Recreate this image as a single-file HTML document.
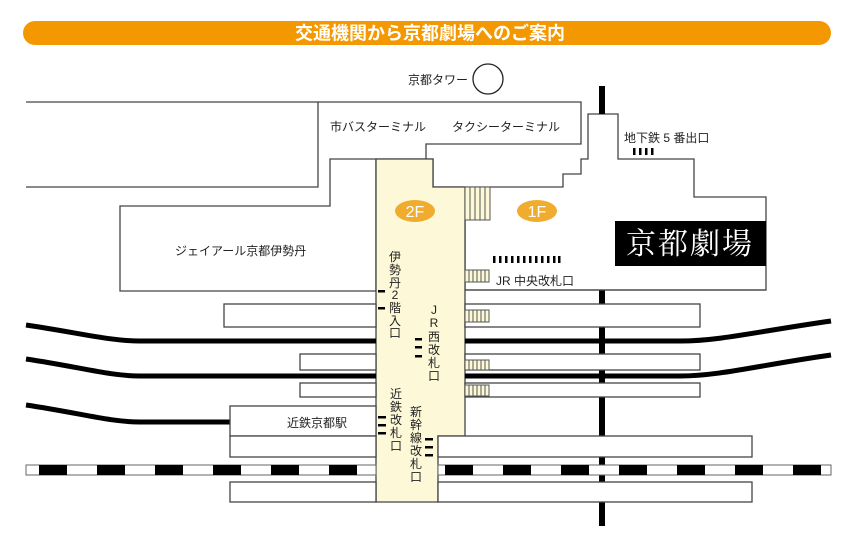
<!DOCTYPE html>
<html><head><meta charset="utf-8"><style>
html,body{margin:0;padding:0;background:#fff;width:849px;height:537px;overflow:hidden}
svg{display:block}
text{font-family:"Liberation Sans","Noto Sans CJK JP",sans-serif;font-size:12px;fill:#222}
</style></head><body>
<svg width="849" height="537" viewBox="0 0 849 537" xmlns="http://www.w3.org/2000/svg">
<rect x="23" y="21" width="808" height="24" rx="12" fill="#f39800"/>
<text x="430" y="39.5" text-anchor="middle" style="font-size:18px;font-weight:bold;fill:#fff">交通機関から京都劇場へのご案内</text>

<!-- subway line -->
<rect x="599" y="86" width="6" height="440" fill="#000"/>

<g fill="#fff" stroke="#444" stroke-width="1.3">
<polyline points="26,102 318,102 318,187 26,187" fill="none"/>
<path d="M318,102 L581,102 L581,144 L426,144 L426,159 L330,159 L330,206 L120,206 L120,291 L376,291 L376,159 L433,159 L433,187 L563,187 L563,174 L581,174 L581,159 L588,159 L588,114 L618,114 L618,159 L694,159 L694,197 L766,197 L766,290 L465,290 L465,187 L433,187"/>
<path d="M376,159 L433,159 L433,187 L465,187 L465,436 L438,436 L438,502 L376,502 Z" fill="#fdf9d8"/>
</g>
<rect x="599" y="86" width="6" height="28" fill="#000"/>

<!-- rails -->
<g fill="none" stroke="#000" stroke-width="5">
<path d="M26,325 C80,333 110,341 140,341 L376,341"/>
<path d="M465,341 L680,341 C720,341 760,331 831,321"/>
<path d="M26,359 C80,367 110,376 140,376 L376,376"/>
<path d="M465,376 L680,376 C720,376 760,365 831,355"/>
<path d="M26,405 C80,413 110,422 140,422 L230,422"/>
</g>

<g fill="#fff" stroke="#444" stroke-width="1.3">
<rect x="224" y="304" width="152" height="23"/>
<rect x="465" y="304" width="235" height="23"/>
<rect x="300" y="354" width="76" height="16"/>
<rect x="465" y="354" width="235" height="16"/>
<rect x="300" y="383" width="76" height="14"/>
<rect x="465" y="383" width="235" height="14"/>
<rect x="230" y="406" width="146" height="30"/>
<rect x="230" y="436" width="146" height="21"/>
<rect x="438" y="436" width="314" height="21"/>
<rect x="230" y="482" width="146" height="20"/>
<rect x="438" y="482" width="314" height="20"/>
</g>
<line x1="465" y1="290" x2="766" y2="290" stroke="#444" stroke-width="1.3"/>

<rect x="26" y="465" width="350" height="10" fill="#fff" stroke="#666" stroke-width="1"/>
<rect x="438" y="465" width="393" height="10" fill="#fff" stroke="#666" stroke-width="1"/>
<g fill="#000">
<rect x="39" y="465" width="28" height="10"/><rect x="97" y="465" width="28" height="10"/>
<rect x="155" y="465" width="28" height="10"/><rect x="213" y="465" width="28" height="10"/>
<rect x="271" y="465" width="28" height="10"/><rect x="329" y="465" width="28" height="10"/>
<rect x="445" y="465" width="28" height="10"/><rect x="503" y="465" width="28" height="10"/>
<rect x="561" y="465" width="28" height="10"/><rect x="619" y="465" width="28" height="10"/>
<rect x="677" y="465" width="28" height="10"/><rect x="735" y="465" width="28" height="10"/>
<rect x="793" y="465" width="28" height="10"/>
</g>

<g fill="#fdf9d8" stroke="#555" stroke-width="1">
<rect x="465" y="187" width="25" height="33"/>
<rect x="465" y="270" width="24" height="12"/>
<rect x="465" y="310" width="24" height="12"/>
<rect x="465" y="360" width="24" height="10"/>
<rect x="465" y="385" width="24" height="11"/>
</g>
<g stroke="#555" stroke-width="1">
<path d="M470,187V220M475,187V220M480,187V220M485,187V220"/>
<path d="M469,270V282M473,270V282M477,270V282M481,270V282M485,270V282"/>
<path d="M469,310V322M473,310V322M477,310V322M481,310V322M485,310V322"/>
<path d="M469,360V370M473,360V370M477,360V370M481,360V370M485,360V370"/>
<path d="M469,385V396M473,385V396M477,385V396M481,385V396M485,385V396"/>
</g>

<g fill="#000">
<rect x="493" y="256" width="2.5" height="7"/><rect x="499" y="256" width="2.5" height="7"/><rect x="505" y="256" width="2.5" height="7"/><rect x="511" y="256" width="2.5" height="7"/><rect x="517" y="256" width="2.5" height="7"/><rect x="523" y="256" width="2.5" height="7"/><rect x="529" y="256" width="2.5" height="7"/><rect x="535" y="256" width="2.5" height="7"/><rect x="541" y="256" width="2.5" height="7"/><rect x="547" y="256" width="2.5" height="7"/><rect x="553" y="256" width="2.5" height="7"/><rect x="558" y="256" width="2.5" height="7"/>
<rect x="633" y="148" width="2.5" height="7"/><rect x="639" y="148" width="2.5" height="7"/><rect x="645" y="148" width="2.5" height="7"/><rect x="651" y="148" width="2.5" height="7"/>
<rect x="378" y="290" width="7" height="2.5"/><rect x="378" y="307" width="7" height="2.5"/>
<rect x="415" y="338" width="7" height="2.5"/><rect x="415" y="346" width="7" height="2.5"/><rect x="415" y="355" width="7" height="2.5"/>
<rect x="378" y="416" width="8" height="2.5"/><rect x="378" y="424" width="8" height="2.5"/><rect x="378" y="432" width="8" height="2.5"/>
<rect x="425" y="438" width="8" height="2.5"/><rect x="425" y="446" width="8" height="2.5"/><rect x="425" y="454" width="8" height="2.5"/>
</g>

<circle cx="488" cy="79" r="15" fill="#fff" stroke="#222" stroke-width="1.3"/>
<text x="408" y="84">京都タワー</text>
<text x="330" y="131">市バスターミナル</text>
<text x="452" y="131">タクシーターミナル</text>
<text x="624" y="142">地下鉄 5 番出口</text>
<text x="175" y="255">ジェイアール京都伊勢丹</text>
<text x="496" y="285">JR 中央改札口</text>
<text x="287" y="427">近鉄京都駅</text>

<ellipse cx="415" cy="211" rx="20" ry="11" fill="#f0ac2e"/>
<text x="415" y="217" text-anchor="middle" style="fill:#fff;font-size:16px">2F</text>
<ellipse cx="537" cy="211" rx="20" ry="11" fill="#f0ac2e"/>
<text x="537" y="217" text-anchor="middle" style="fill:#fff;font-size:16px">1F</text>

<rect x="615" y="221" width="151" height="45" fill="#000"/>
<text x="690" y="254" text-anchor="middle" style="fill:#fff;font-family:'Liberation Serif','Noto Serif CJK SC',serif;font-size:30px;letter-spacing:2px">京都劇場</text>

<g text-anchor="middle">
<text x="395" y="261">伊</text><text x="395" y="274">勢</text><text x="395" y="287">丹</text><text x="395" y="299">2</text><text x="395" y="312">階</text><text x="395" y="325">入</text><text x="395" y="337">口</text>
<text x="434" y="314">J</text><text x="434" y="327">R</text><text x="434" y="341">西</text><text x="434" y="354">改</text><text x="434" y="367">札</text><text x="434" y="380">口</text>
<text x="396" y="398">近</text><text x="396" y="411">鉄</text><text x="396" y="424">改</text><text x="396" y="437">札</text><text x="396" y="450">口</text>
<text x="416" y="416">新</text><text x="416" y="429">幹</text><text x="416" y="442">線</text><text x="416" y="455">改</text><text x="416" y="468">札</text><text x="416" y="481">口</text>
</g>
</svg>
</body></html>
